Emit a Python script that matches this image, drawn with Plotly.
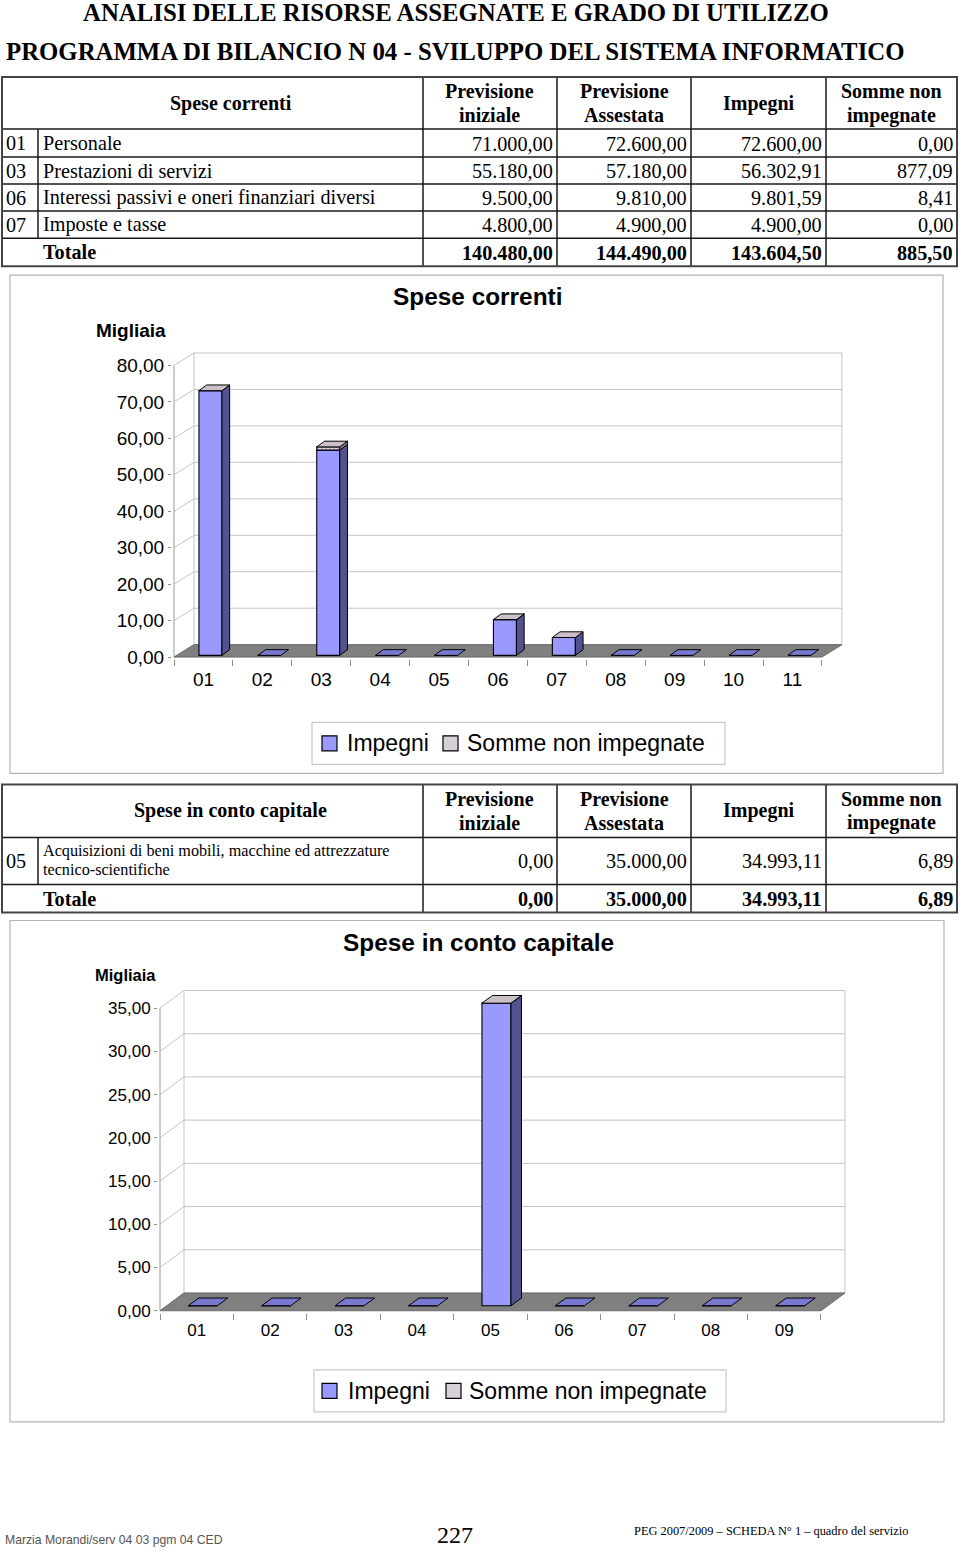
import plotly.graph_objects as go

W, H = 960, 1553
KY = 1.0064  # small vertical correction of the page coordinates
SERIF = "Liberation Serif"
SANS = "Liberation Sans"

# ---------------- data ----------------
title1 = "ANALISI DELLE RISORSE ASSEGNATE E GRADO DI UTILIZZO"
title2 = "PROGRAMMA DI BILANCIO N 04 - SVILUPPO DEL SISTEMA INFORMATICO"
col_headers = [("Previsione", "iniziale"), ("Previsione", "Assestata"), ("Impegni", ""), ("Somme non", "impegnate")]

sc_title = "Spese correnti"
sc_codes = ["01", "03", "06", "07"]
sc_desc = ["Personale", "Prestazioni di servizi", "Interessi passivi e oneri finanziari diversi", "Imposte e tasse"]
sc_prev_iniziale = [71000.00, 55180.00, 9500.00, 4800.00]
sc_prev_assestata = [72600.00, 57180.00, 9810.00, 4900.00]
sc_impegni = [72600.00, 56302.91, 9801.59, 4900.00]
sc_somme_non = [0.00, 877.09, 8.41, 0.00]
sc_totals = [140480.00, 144490.00, 143604.50, 885.50]

cc_title = "Spese in conto capitale"
cc_codes = ["05"]
cc_desc = [("Acquisizioni di beni mobili, macchine ed attrezzature", "tecnico-scientifiche")]
cc_prev_iniziale = [0.00]
cc_prev_assestata = [35000.00]
cc_impegni = [34993.11]
cc_somme_non = [6.89]
cc_totals = [0.00, 35000.00, 34993.11, 6.89]

chart1_categories = ["01", "02", "03", "04", "05", "06", "07", "08", "09", "10", "11"]
chart1_yticks = [0, 10, 20, 30, 40, 50, 60, 70, 80]
chart2_categories = ["01", "02", "03", "04", "05", "06", "07", "08", "09"]
chart2_yticks = [0, 5, 10, 15, 20, 25, 30, 35]
series_names = ["Impegni", "Somme non impegnate"]
unit_label = "Migliaia"

footer_left = "Marzia Morandi/serv 04 03 pgm 04 CED"
footer_page = "227"
footer_right = "PEG 2007/2009 – SCHEDA N° 1 – quadro del servizio"

# --------------- helpers ---------------
def it(v):
    s = f"{v:,.2f}"
    return s.replace(",", "X").replace(".", ",").replace("X", ".")

def fx(x):
    return x / W

def fy(y):
    return 1 - (y * KY) / H

annotations = []
shapes = []

def text(x, y, s, size, family, bold=False, anchor="center", color="#000"):
    annotations.append(dict(
        x=fx(x), y=fy(y), xref="paper", yref="paper",
        text=("<b>%s</b>" % s) if bold else s, showarrow=False,
        xanchor=anchor, yanchor="middle",
        font=dict(family=family, size=size, color=color)))

def pline(x0, y0, x1, y1, w=1.5, c="#1a1a1a"):
    shapes.append(dict(type="line", xref="paper", yref="paper",
                       x0=fx(x0), y0=fy(y0), x1=fx(x1), y1=fy(y1),
                       line=dict(width=w, color=c)))

def prect(x0, y0, x1, y1, w=1, c="#b0b0b0", fill=None):
    d = dict(type="rect", xref="paper", yref="paper",
             x0=fx(x0), y0=fy(y0), x1=fx(x1), y1=fy(y1),
             line=dict(width=w, color=c))
    if fill:
        d["fillcolor"] = fill
    shapes.append(d)

# --------------- titles ---------------
text(456, 12, title1, 24.8, SERIF, bold=True)
text(455, 51, title2, 24.8, SERIF, bold=True)

# --------------- tables ---------------
COLS = [2, 38, 423, 557, 691, 826, 957]
NUM_SIZE = 20.2

def draw_table(top, head_bot, row_edges, title, codes, descs, cols_vals, totals):
    bottom = row_edges[-1]
    hc = (top + head_bot) / 2
    text((COLS[1] + COLS[2]) / 2, hc, title, 20, SERIF, bold=True)
    for k, (a, b) in enumerate(col_headers):
        cx = (COLS[2 + k] + COLS[3 + k]) / 2
        if b:
            text(cx, hc - 12, a, 20, SERIF, bold=True)
            text(cx, hc + 12, b, 20, SERIF, bold=True)
        else:
            text(cx, hc, a, 20, SERIF, bold=True)
    for r in range(len(codes)):
        y0, y1 = row_edges[r], row_edges[r + 1]
        yc = (y0 + y1) / 2
        text(4, yc, codes[r], NUM_SIZE, SERIF, anchor="left")
        d = descs[r]
        if isinstance(d, tuple):
            text(41, yc - 9.5, d[0], 16.2, SERIF, anchor="left")
            text(41, yc + 9.5, d[1], 16.2, SERIF, anchor="left")
        else:
            text(41, yc, d, NUM_SIZE, SERIF, anchor="left")
        for k in range(4):
            text(COLS[3 + k] - 2, yc + 0.5, it(cols_vals[k][r]), NUM_SIZE, SERIF, anchor="right")
        pline(COLS[1], y0, COLS[1], y1)
    ty = (row_edges[-2] + row_edges[-1]) / 2
    text(41, ty, "Totale", NUM_SIZE, SERIF, bold=True, anchor="left")
    for k in range(4):
        text(COLS[3 + k] - 2, ty + 0.5, it(totals[k]), NUM_SIZE, SERIF, bold=True, anchor="right")
    pline(COLS[0], head_bot, COLS[-1], head_bot)
    for y in row_edges[1:-1]:
        pline(COLS[0], y, COLS[-1], y)
    for x in COLS[2:-1]:
        pline(x, top, x, bottom)
    prect(COLS[0], top, COLS[-1], bottom, w=2, c="#444")

draw_table(77, 129, [129, 157, 184, 211, 238, 266], sc_title, sc_codes, sc_desc,
           [sc_prev_iniziale, sc_prev_assestata, sc_impegni, sc_somme_non], sc_totals)
draw_table(784, 837, [837, 884, 912], cc_title, cc_codes, cc_desc,
           [cc_prev_iniziale, cc_prev_assestata, cc_impegni, cc_somme_non], cc_totals)

# --------------- charts ---------------
FRONT = "#9999ff"
SIDE = "#52528f"
TOP_S = "#cdbfc7"
TOP_Z = "#7878d0"
SOMME = "#e4dce4"
FLOOR = "#808080"
GRID = "#c4c4c4"

fig = go.Figure()

def lookup(codes, vals, c):
    return vals[codes.index(c)] / 1000.0 if c in codes else 0.0

def polys_xy(polys):
    xs, ys = [], []
    for p in polys:
        for a, b in p:
            xs.append(a)
            ys.append(b)
        xs.append(p[0][0])
        ys.append(p[0][1])
        xs.append(None)
        ys.append(None)
    return xs, ys

def add_chart(idx, cats, imp, som, yticks, g):
    xa = "x" if idx == 1 else "x%d" % idx
    ya = "y" if idx == 1 else "y%d" % idx
    n = len(cats)
    top = yticks[-1]
    DX, DY = g["DX"], g["DY"]
    padx = 2.0 / g["ppx"]
    pady = 2.0 / g["ppy"]
    xr = [-padx, n + DX + padx]
    yr = [-pady, top + DY + pady]
    xdom = [(g["X0"] + xr[0] * g["ppx"]) / W, (g["X0"] + xr[1] * g["ppx"]) / W]
    ydom = [fy(g["Y0"] - yr[0] * g["ppy"]), fy(g["Y0"] - yr[1] * g["ppy"])]

    sfx = "" if idx == 1 else str(idx)
    fig.layout["xaxis" + sfx] = dict(
        domain=xdom, range=xr, anchor=ya, tickmode="array",
        tickvals=[i + 0.5 for i in range(n)], ticktext=cats,
        ticks="outside", ticklen=g["xlabpad"], tickcolor="rgba(0,0,0,0)",
        showgrid=False, zeroline=False, showline=False, fixedrange=True,
        tickfont=dict(family=SANS, size=g["fs"], color="#000"),
        minor=dict(tickmode="array", tickvals=list(range(n + 1)), ticks="outside",
                   ticklen=6, tickcolor="#8c8c8c", tickwidth=1, showgrid=False))
    fig.layout["yaxis" + sfx] = dict(
        domain=ydom, range=yr, anchor=xa, tickmode="array", tickvals=yticks,
        ticktext=[("%.2f" % v).replace(".", ",") for v in yticks],
        ticks="outside", ticklen=3, tickcolor="#8c8c8c",
        showgrid=False, zeroline=False, showline=False, fixedrange=True,
        tickfont=dict(family=SANS, size=g["fs"], color="#000"))

    for v in yticks:
        shapes.append(dict(type="line", xref=xa, yref=ya, layer="below",
                           x0=DX, y0=v + DY, x1=n + DX, y1=v + DY, line=dict(color=GRID, width=1)))
        shapes.append(dict(type="line", xref=xa, yref=ya, layer="below",
                           x0=0, y0=v, x1=DX, y1=v + DY, line=dict(color=GRID, width=1)))
    shapes.append(dict(type="line", xref=xa, yref=ya, layer="below",
                       x0=DX, y0=DY, x1=DX, y1=top + DY, line=dict(color=GRID, width=1)))
    shapes.append(dict(type="line", xref=xa, yref=ya, layer="below",
                       x0=n + DX, y0=DY, x1=n + DX, y1=top + DY, line=dict(color=GRID, width=1)))
    shapes.append(dict(type="line", xref=xa, yref=ya, layer="below",
                       x0=0, y0=0, x1=0, y1=top, line=dict(color="#9a9a9a", width=1)))
    shapes.append(dict(type="path", xref=xa, yref=ya, layer="below",
                       path="M 0,0 L %f,0 L %f,%f L %f,%f Z" % (n, n + DX, DY, DX, DY),
                       fillcolor=FLOOR, line=dict(color="#6a6a6a", width=1)))

    xc = [i + 0.5 + g["shift"] for i in range(n)]
    base = g["base"]
    fig.add_trace(go.Bar(x=xc, y=imp, base=[base] * n, width=g["bw"], name=series_names[0],
                         marker=dict(color=FRONT, line=dict(color="#000", width=1.1)),
                         xaxis=xa, yaxis=ya, showlegend=False, hoverinfo="skip"))
    fig.add_trace(go.Bar(x=xc, y=som, base=[base + v for v in imp], width=g["bw"], name=series_names[1],
                         marker=dict(color=SOMME, line=dict(color="#000", width=1.1),
                                     pattern=dict(shape=".", fgcolor="#8a8090", size=4, solidity=0.25)),
                         xaxis=xa, yaxis=ya, showlegend=False, hoverinfo="skip"))

    ddx, ddy = g["ddx"], g["ddy"]
    side_i, side_s, top_s, top_z = [], [], [], []
    for i in range(n):
        x0 = xc[i] - g["bw"] / 2
        x1 = xc[i] + g["bw"] / 2
        y1 = base + imp[i]
        y2 = y1 + som[i]
        if imp[i] > 0:
            side_i.append([(x1, base), (x1 + ddx, base + ddy), (x1 + ddx, y1 + ddy), (x1, y1)])
        if som[i] > 0:
            side_s.append([(x1, y1), (x1 + ddx, y1 + ddy), (x1 + ddx, y2 + ddy), (x1, y2)])
        face = [(x0, y2), (x1, y2), (x1 + ddx, y2 + ddy), (x0 + ddx, y2 + ddy)]
        (top_s if imp[i] > 0 else top_z).append(face)
    for polys, col in ((side_i, SIDE), (side_s, "#8a8090"), (top_s, TOP_S), (top_z, TOP_Z)):
        if not polys:
            continue
        xs, ys = polys_xy(polys)
        fig.add_trace(go.Scatter(x=xs, y=ys, mode="lines", fill="toself", fillcolor=col,
                                 line=dict(color="#000", width=1), xaxis=xa, yaxis=ya,
                                 showlegend=False, hoverinfo="skip"))

    bx = g["box"]
    prect(bx[0], bx[1], bx[2], bx[3], w=1.2, c="#b4b4b4")
    text(g["title_xy"][0], g["title_xy"][1], g["title"], 24.4, SANS, bold=True)
    text(g["unit_xy"][0], g["unit_xy"][1], unit_label, g["unit_fs"], SANS, bold=True)
    lb = g["legend"]
    prect(lb[0], lb[1], lb[2], lb[3], w=1.2, c="#c8c8c8")
    ly = (lb[1] + lb[3]) / 2
    sq = g["sq"]
    prect(sq[0], ly - 7.5, sq[0] + 15, ly + 7.5, w=1.2, c="#000", fill=FRONT)
    text(sq[1], ly, series_names[0], 23, SANS, anchor="left")
    prect(sq[2], ly - 7.5, sq[2] + 15, ly + 7.5, w=1.2, c="#000", fill="#d8d0d8")
    text(sq[3], ly, series_names[1], 23, SANS, anchor="left")

imp1 = [lookup(sc_codes, sc_impegni, c) for c in chart1_categories]
som1 = [lookup(sc_codes, sc_somme_non, c) for c in chart1_categories]
imp2 = [lookup(cc_codes, cc_impegni, c) for c in chart2_categories]
som2 = [lookup(cc_codes, cc_somme_non, c) for c in chart2_categories]

g1 = dict(X0=174, Y0=656.7, ppx=58.9, ppy=3.644, DX=20 / 58.9, DY=12.4 / 3.644,
          shift=7 / 58.9, bw=23 / 58.9, base=1.7 / 3.644, ddx=7.7 / 58.9, ddy=5.7 / 3.644,
          fs=19, xlabpad=3, box=(10, 275, 943, 773), title=sc_title, title_xy=(477, 296),
          unit_xy=(131, 330), unit_fs=19, legend=(312, 722, 725, 764), sq=(322, 345, 443, 465))
g2 = dict(X0=160, Y0=1310, ppx=73.44, ppy=8.64, DX=24 / 73.44, DY=17.7 / 8.64,
          shift=6 / 73.44, bw=29 / 73.44, base=5 / 8.64, ddx=10.5 / 73.44, ddy=7.7 / 8.64,
          fs=17, xlabpad=2, box=(10, 920, 944, 1421), title=cc_title, title_xy=(478, 942),
          unit_xy=(125, 974), unit_fs=16.5, legend=(314, 1369, 726, 1411), sq=(322, 346, 446, 467))

add_chart(1, chart1_categories, imp1, som1, chart1_yticks, g1)
add_chart(2, chart2_categories, imp2, som2, chart2_yticks, g2)

# --------------- footer ---------------
text(3, 1539, footer_left, 12.2, SANS, anchor="left", color="#555")
text(455, 1534, footer_page, 24, SERIF)
text(632, 1530, footer_right, 12.4, SERIF, anchor="left")

fig.update_layout(
    width=W, height=H, margin=dict(l=0, r=0, t=0, b=0),
    paper_bgcolor="#ffffff", plot_bgcolor="rgba(0,0,0,0)",
    barmode="overlay", showlegend=False,
    annotations=annotations, shapes=shapes,
)

fig.write_html("out.html")
